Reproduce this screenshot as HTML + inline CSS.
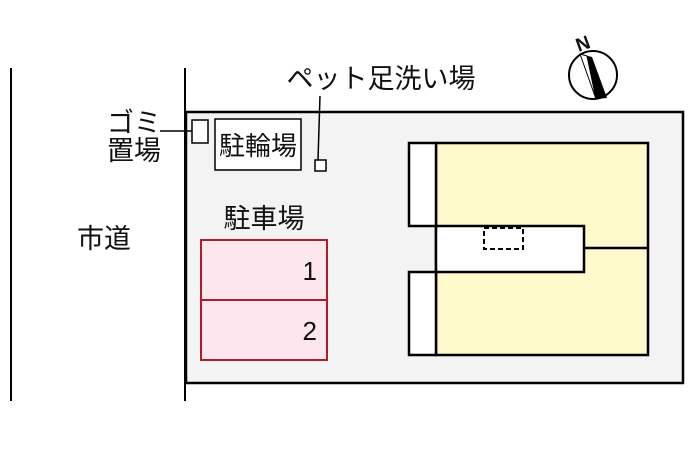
<!DOCTYPE html>
<html><head><meta charset="utf-8"><style>
html,body{margin:0;padding:0;background:#fff;}
svg{display:block;}
text{font-family:"Liberation Sans","Noto Sans CJK JP",sans-serif;fill:#111;}
</style></head><body>
<svg width="700" height="466" viewBox="0 0 700 466" xmlns="http://www.w3.org/2000/svg">
<rect x="186" y="112" width="497" height="271" fill="#f3f3f3" stroke="#000" stroke-width="2.5"/>
<line x1="11" y1="68" x2="11" y2="401" stroke="#000" stroke-width="2"/>
<line x1="185" y1="68" x2="185" y2="401" stroke="#000" stroke-width="2"/>
<rect x="436" y="143" width="212" height="212" fill="#fff9cc" stroke="#000" stroke-width="2.5"/>
<rect x="409" y="143" width="27" height="83" fill="#fff" stroke="#000" stroke-width="2.5"/>
<rect x="409" y="272" width="27" height="83" fill="#fff" stroke="#000" stroke-width="2.5"/>
<rect x="436" y="226" width="148" height="46" fill="#fff" stroke="#000" stroke-width="2.5"/>
<line x1="584" y1="248" x2="648" y2="248" stroke="#000" stroke-width="2.5"/>
<rect x="484" y="228" width="39" height="21" fill="none" stroke="#000" stroke-width="2" stroke-dasharray="5,3"/>
<rect x="201" y="240" width="126" height="120" fill="#fde6ee" stroke="#b01c2a" stroke-width="2"/>
<line x1="201" y1="300" x2="327" y2="300" stroke="#b01c2a" stroke-width="2"/>
<text x="317" y="280" font-size="26" text-anchor="end">1</text>
<text x="317" y="340" font-size="26" text-anchor="end">2</text>
<text x="264" y="228" font-size="27" text-anchor="middle">駐車場</text>
<rect x="215" y="119" width="86" height="51" fill="#fff" stroke="#000" stroke-width="1.5"/>
<text x="258" y="155" font-size="26" text-anchor="middle">駐輪場</text>
<rect x="192" y="120" width="16" height="23" fill="#fff" stroke="#000" stroke-width="1.5"/>
<line x1="160" y1="131" x2="192" y2="131" stroke="#000" stroke-width="1.5"/>
<text x="134" y="132" font-size="27" text-anchor="middle">ゴミ</text>
<text x="134" y="160" font-size="27" text-anchor="middle">置場</text>
<rect x="315" y="160" width="11" height="11" fill="#fff" stroke="#000" stroke-width="1.5"/>
<line x1="320" y1="96" x2="318" y2="160" stroke="#000" stroke-width="1.5"/>
<text x="381" y="88" font-size="27" text-anchor="middle">ペット足洗い場</text>
<text x="104" y="248" font-size="27" text-anchor="middle">市道</text>
<circle cx="593" cy="75" r="24" fill="#fff" stroke="#000" stroke-width="2"/>
<polygon points="580,54 592,57 607,98 596,99" fill="#000"/>
<polygon points="580,54 587,56 596,99" fill="#fff" stroke="#000" stroke-width="1"/>
<text x="583" y="50" font-size="19" font-weight="bold" text-anchor="middle" transform="rotate(-20 583 44)">N</text>
</svg>
</body></html>
